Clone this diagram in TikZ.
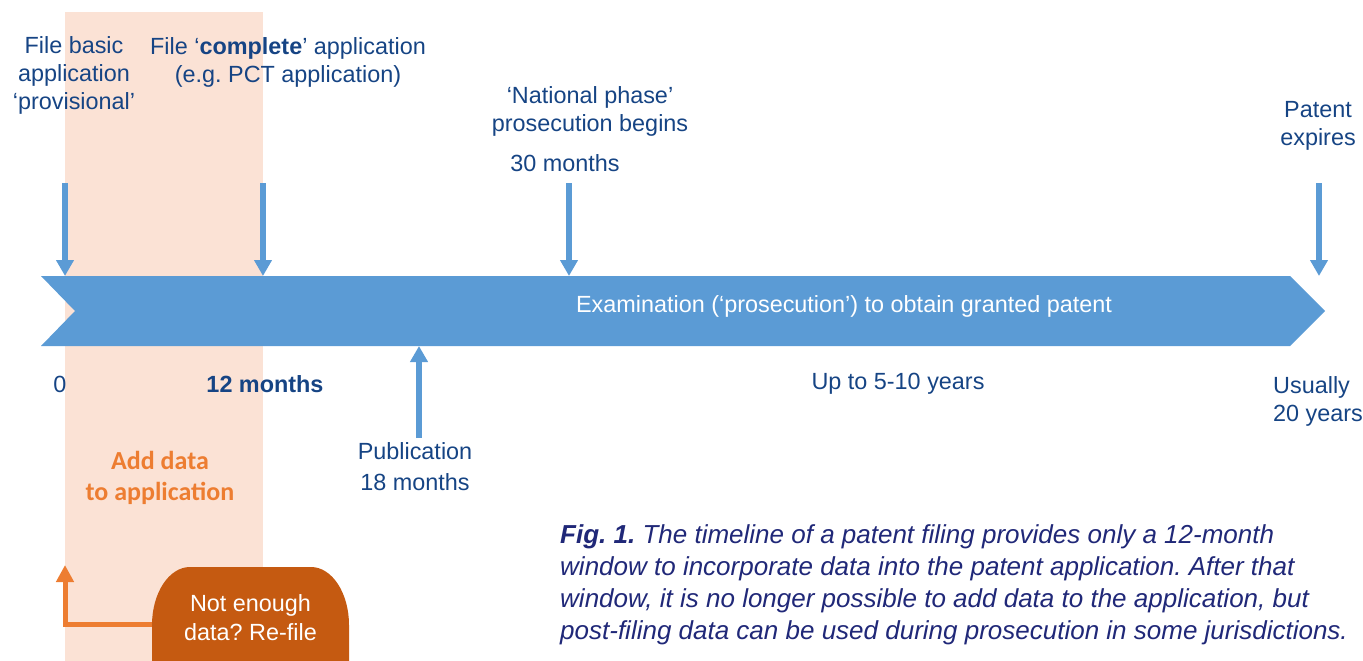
\documentclass[tikz,border=0pt]{standalone}
\usepackage{fontspec}
\setmainfont{Liberation Sans}
\newfontfamily\calfont{Carlito}
\usetikzlibrary{arrows.meta}
\definecolor{bandblue}{RGB}{91,155,213}
\definecolor{txtblue}{RGB}{22,68,132}
\definecolor{navy}{RGB}{32,40,120}
\definecolor{peach}{RGB}{251,226,213}
\definecolor{orangeA}{RGB}{237,125,49}
\definecolor{orangeB}{RGB}{197,90,17}
\frenchspacing
\begin{document}
\begin{tikzpicture}[x=1pt,y=-1pt,
  lbl/.style={text=txtblue, font=\fontsize{23.4}{28}\selectfont, align=center, inner sep=0pt},
  darrow/.style={draw=bandblue, line width=6pt, -{Triangle[width=17pt,length=16pt]}},
  oarrow/.style={draw=orangeA, line width=5pt, -{Triangle[width=17pt,length=17pt]}},
  ]
\useasboundingbox (0,0) rectangle (1363,661);
% shaded window
\fill[peach] (65,12) rectangle (263,661);
% band
\fill[bandblue] (41,276) -- (1290,276) -- (1325,311) -- (1290,346) -- (41,346) -- (75,311) -- cycle;
\node[text=white, font=\fontsize{23.4}{28}\selectfont, inner sep=0pt] (exam) at (844,306) {Examination (‘prosecution’) to obtain granted patent};
% arrow points
\coordinate (t0) at (65,183);   \coordinate (b0) at (65,276);
\coordinate (t12) at (263,183); \coordinate (b12) at (263,276);
\coordinate (t30) at (569,183); \coordinate (b30) at (569,276);
\coordinate (t20) at (1319,183);\coordinate (b20) at (1319,276);
\coordinate (u18) at (419,438); \coordinate (e18) at (419,346);
\draw[darrow] (t0) -- (b0);
\draw[darrow] (t12) -- (b12);
\draw[darrow] (t30) -- (b30);
\draw[darrow] (t20) -- (b20);
\draw[darrow] (u18) -- (e18);
% top labels
\node[lbl] (prov) at (74,75) {File basic\\application\\‘provisional’};
\node[lbl] (compl) at (288,62) {File ‘\textbf{complete}’ application\\(e.g. PCT application)};
\node[lbl] (natl) at (590,111) {‘National phase’\\prosecution begins};
\node[lbl] (m30) at (565,163) {30 months};
\node[lbl] (pat) at (1318,126) {Patent\\expires};
% bottom labels
\node[lbl] (zero) at (60,384) {0};
\node[lbl, font=\fontsize{23.4}{28}\selectfont\bfseries] (m12) at (265,384) {12 months};
\node[lbl] (upto) at (898,384) {Up to 5-10 years};
\node[lbl, align=left, anchor=west] (usu) at (1273,401) {Usually\\20 years};
\node[lbl, font=\fontsize{23.4}{31}\selectfont] (pub) at (415,467) {Publication\\18 months};
\node[lbl, text=orangeA, font=\fontsize{26}{31}\selectfont\calfont\bfseries] (add) at (160,478) {Add data\\to application};
% re-file box
\fill[orangeB] (152,661) -- (152,625) arc[start angle=180, end angle=270, x radius=38, y radius=58]
  -- (311,567) arc[start angle=270, end angle=360, x radius=38, y radius=58] -- (349,661) -- cycle;
\node[text=white, font=\fontsize{23.4}{29}\selectfont, align=center, inner sep=0pt, minimum width=197pt] (netext) at (250.5,618) {Not enough\\data? Re-file};
\coordinate (otip) at (65,565);
\draw[oarrow] ([yshift=-6pt]netext.west) -| (otip);
% caption
\node[text=navy, font=\fontsize{26}{32}\selectfont\itshape, align=left, anchor=west, inner sep=0pt] (cap) at (560,585) {\textbf{Fig. 1.} The timeline of a patent filing provides only a 12-month\\window to incorporate data into the patent application. After that\\window, it is no longer possible to add data to the application, but\\post-filing data can be used during prosecution in some jurisdictions.};
\end{tikzpicture}
\end{document}
